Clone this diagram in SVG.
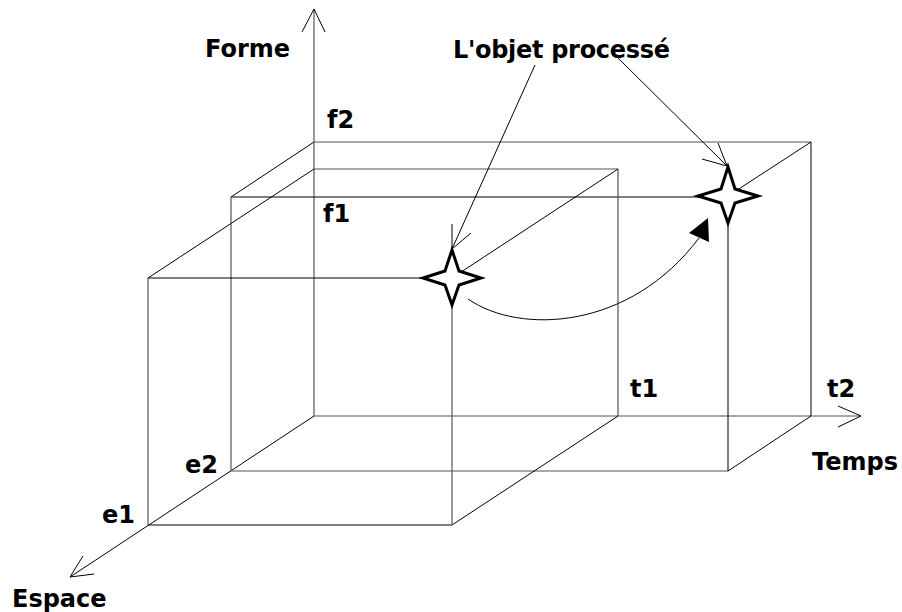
<svg xmlns="http://www.w3.org/2000/svg" width="902" height="612" viewBox="0 0 902 612">
<style>
.l{fill:none;stroke:#000;stroke-width:1}
.g{fill:none;stroke:#555;stroke-width:1.2}
.t{font-family:"DejaVu Sans",Verdana,sans-serif;font-weight:bold;font-size:24px;fill:#000}
.star{fill:#fff;stroke:#000;stroke-width:3;stroke-linejoin:miter}
</style>
<rect width="902" height="612" fill="#fff"/>
<g id="connectors">
<!-- axes -->
<line class="g" x1="314" y1="416" x2="314" y2="9"/>
<path class="l" d="M302,32 L314,9 L325,32"/>
<line class="g" x1="314" y1="416" x2="861" y2="416"/>
<path class="l" d="M838,406 L861,416 L838,427"/>
<line class="l" x1="314" y1="416" x2="70" y2="577"/>
<path class="l" d="M83,556 L70,577 L94,574"/>
<!-- big box -->
<line class="g" x1="314" y1="142" x2="811" y2="142"/>
<line class="l" x1="811" y1="142" x2="811" y2="416"/>
<line class="l" x1="314" y1="142" x2="231" y2="197"/>
<line class="l" x1="811" y1="142" x2="728" y2="196"/>
<line class="l" x1="811" y1="416" x2="728" y2="471"/>
<line class="l" x1="231" y1="197" x2="700" y2="197"/>
<line class="g" x1="231" y1="197" x2="231" y2="471"/>
<line class="g" x1="231" y1="471" x2="728" y2="471"/>
<line class="l" x1="728" y1="222" x2="728" y2="471"/>
<!-- small box -->
<line class="g" x1="314" y1="169" x2="618" y2="169"/>
<line class="g" x1="618" y1="169" x2="618" y2="416"/>
<line class="l" x1="314" y1="169" x2="148" y2="278"/>
<line class="l" x1="618" y1="169" x2="452" y2="278"/>
<line class="l" x1="618" y1="416" x2="452" y2="525"/>
<line class="l" x1="148" y1="278" x2="424" y2="278"/>
<line class="g" x1="148" y1="278" x2="148" y2="525"/>
<line class="l" x1="148" y1="525" x2="452" y2="525"/>
<line class="g" x1="452" y1="304" x2="452" y2="525"/>
<!-- pointers -->
<line class="l" x1="535" y1="65" x2="452" y2="249"/>
<path class="l" d="M452,224 L452,249 L471,233"/>
<line class="l" x1="618" y1="58" x2="727" y2="166"/>
<path class="l" d="M718,143 L727,166 L702,159"/>
<!-- curved move arrow -->
<path class="l" d="M468,299 C520,335 630,330 699,238"/>
<polygon points="689,233 708,218 709,242" fill="#000"/>
</g>
<g id="star1">
<polygon class="star" points="452,250 459,271 481,278 459,285 452,305 445,285 423,278 445,271"/>
</g>
<g id="star2">
<polygon class="star" points="728,167 735,189 758,196 735,203 728,223 721,203 698,196 721,189"/>
</g>
<g id="labels">
<text id="forme" class="t" x="205" y="57">Forme</text>
<text id="objet" class="t" x="453" y="58" textLength="217">L'objet processé</text>
<text id="f2" class="t" x="327" y="128">f2</text>
<text id="f1" class="t" x="323" y="222">f1</text>
<text id="t1" class="t" x="630" y="397">t1</text>
<text id="t2" class="t" x="827" y="397">t2</text>
<text id="temps" class="t" x="812" y="470">Temps</text>
<text id="e2" class="t" x="185" y="473">e2</text>
<text id="e1" class="t" x="102" y="523">e1</text>
<text id="espace" class="t" x="12" y="607">Espace</text>
</g>
</svg>
